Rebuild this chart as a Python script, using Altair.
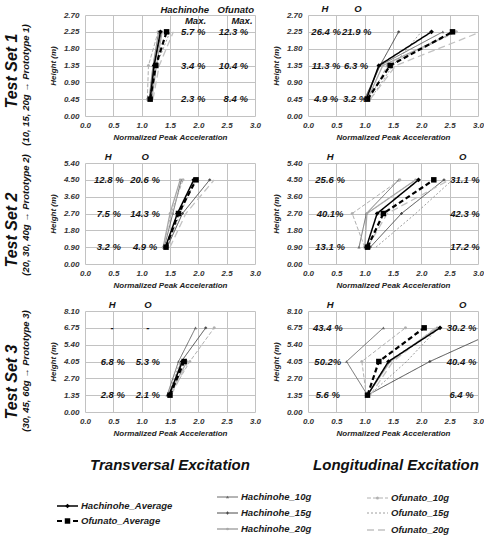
import altair as alt
import pandas as pd

FONT = "Liberation Sans"

SERIES = ["Hachinohe_Average", "Ofunato_Average", "Hachinohe_10g", "Hachinohe_15g",
          "Hachinohe_20g", "Ofunato_10g", "Ofunato_15g", "Ofunato_20g"]

HEIGHTS_SET1 = [0.45, 1.35, 2.25]
HEIGHTS_SET2 = [0.90, 2.70, 4.50]
HEIGHTS_SET3 = [1.35, 4.05, 6.75]

Y_TICKS_SET1 = [0.0, 0.45, 0.90, 1.35, 1.80, 2.25, 2.70]
Y_TICKS_SET2 = [0.0, 0.90, 1.80, 2.70, 3.60, 4.50, 5.40]
Y_TICKS_SET3 = [0.0, 1.35, 2.70, 4.05, 5.40, 6.75, 8.10]
X_TICKS = [0.0, 0.5, 1.0, 1.5, 2.0, 2.5, 3.0]

# normalized peak acceleration: one row per series (SERIES order), one value per height
TRANS_SET1 = [
    [1.15, 1.22, 1.33],
    [1.15, 1.25, 1.44],
    [1.13, 1.20, 1.30],
    [1.15, 1.22, 1.35],
    [1.18, 1.26, 1.36],
    [1.10, 1.12, 1.29],
    [1.15, 1.26, 1.50],
    [1.20, 1.31, 1.56],
]
LONG_SET1 = [
    [1.03, 1.25, 2.18],
    [1.05, 1.45, 2.55],
    [1.02, 1.27, 2.38],
    [1.00, 1.27, 1.60],
    [1.05, 1.32, 2.60],
    [1.08, 1.40, 2.62],
    [1.10, 1.50, 2.00],
    [1.10, 1.55, 3.05],
]
TRANS_SET2 = [
    [1.42, 1.63, 1.92],
    [1.43, 1.65, 1.96],
    [1.40, 1.55, 1.70],
    [1.45, 1.72, 2.20],
    [1.38, 1.50, 1.68],
    [1.38, 1.52, 1.73],
    [1.45, 1.68, 1.95],
    [1.50, 1.78, 2.28],
]
LONG_SET2 = [
    [1.03, 1.22, 1.95],
    [1.05, 1.33, 2.22],
    [0.90, 1.03, 1.60],
    [1.10, 1.65, 2.40],
    [1.00, 1.04, 1.90],
    [1.00, 0.78, 1.62],
    [1.20, 1.90, 2.55],
    [1.05, 1.40, 2.50],
]
TRANS_SET3 = [
    [1.48, 1.72, None],
    [1.50, 1.75, None],
    [1.45, 1.65, 1.95],
    [1.50, 1.70, 2.13],
    [1.48, 1.80, None],
    [1.50, 1.85, 2.28],
    [1.47, 1.68, None],
    [1.52, 1.82, None],
]
LONG_SET3 = [
    [1.05, 1.42, 2.33],
    [1.05, 1.25, 2.05],
    [1.05, 0.68, 1.33],
    [1.05, 2.15, 3.46],
    [1.05, 1.45, 2.28],
    [1.03, 0.95, 1.72],
    [1.08, 1.74, 2.30],
    [1.10, 1.50, 2.25],
]

# annotation texts with their (acceleration, height) anchors
NOTES_T1 = [("Hachinohe", 1.76, 2.83), ("Ofunato", 2.66, 2.83), ("Max.", 1.95, 2.53),
            ("Max.", 2.77, 2.53), ("5.7 %", 1.91, 2.24), ("12.3 %", 2.62, 2.24),
            ("3.4 %", 1.91, 1.35), ("10.4 %", 2.62, 1.35), ("2.3 %", 1.91, 0.45),
            ("8.4 %", 2.66, 0.45)]
NOTES_L1 = [("H", 0.30, 2.85), ("O", 0.88, 2.85), ("26.4 %", 0.32, 2.25), ("21.9 %", 0.86, 2.25),
            ("11.3 %", 0.32, 1.35), ("6.3 %", 0.85, 1.35), ("4.9 %", 0.32, 0.45), ("3.2 %", 0.83, 0.45)]
NOTES_T2 = [("H", 0.41, 5.72), ("O", 1.06, 5.72), ("12.8 %", 0.42, 4.5), ("20.6 %", 1.06, 4.5),
            ("7.5 %", 0.42, 2.7), ("14.3 %", 1.06, 2.7), ("3.2 %", 0.42, 0.9), ("4.9 %", 1.06, 0.9)]
NOTES_L2 = [("H", 0.39, 5.72), ("O", 2.73, 5.72), ("25.6 %", 0.39, 4.5), ("31.1 %", 2.77, 4.5),
            ("40.1%", 0.39, 2.7), ("42.3 %", 2.77, 2.7), ("13.1 %", 0.39, 0.9), ("17.2 %", 2.77, 0.9)]
NOTES_T3 = [("H", 0.48, 8.58), ("O", 1.11, 8.58), ("-", 0.48, 6.75), ("-", 1.11, 6.75),
            ("6.8 %", 0.49, 4.05), ("5.3 %", 1.11, 4.05), ("2.8 %", 0.49, 1.35), ("2.1 %", 1.11, 1.35)]
NOTES_L3 = [("H", 0.39, 8.58), ("O", 2.73, 8.58), ("43.4 %", 0.35, 6.75), ("30.2 %", 2.71, 6.75),
            ("50.2%", 0.35, 4.05), ("40.4 %", 2.71, 4.05), ("5.6 %", 0.35, 1.35), ("6.4 %", 2.71, 1.35)]

ROW_TITLES = ["Test Set 1", "Test Set 2", "Test Set 3"]
ROW_SUBTITLES = ["(10, 15, 20g \u2192 Prototype 1)", "(20, 30, 40g \u2192 Prototype 2)",
                 "(30, 45, 60g \u2192 Prototype 3)"]

# styles (per series)
COLORS = ["#000000", "#000000", "#6a6a6a", "#4a4a4a", "#a8a8a8", "#b0b0b0", "#858585", "#c2c2c2"]
DASHES = [[1, 0], [5, 3], [1, 0], [1, 0], [1, 0], [4, 2], [2, 2], [7, 4]]
WIDTHS = dict(zip(SERIES, [1.5, 2.2, 1.0, 1.0, 1.3, 1.0, 0.8, 1.3]))
SHAPES = ["diamond", "square", "triangle-up", "cross", "circle", "circle", "circle", "circle"]
SIZES = dict(zip(SERIES, [22, 30, 10, 8, 7, 9, 0, 0]))

W, H = 170, 101


def build_df(values, heights):
    rows = []
    for s, vals in zip(SERIES, values):
        for h, v in zip(heights, vals):
            if v is not None:
                rows.append({"series": s, "acc": v, "h": h, "sw": WIDTHS[s], "sz": SIZES[s]})
    return pd.DataFrame(rows)


def style_encodings():
    return dict(
        color=alt.Color("series:N", scale=alt.Scale(domain=SERIES, range=COLORS), legend=None),
        strokeDash=alt.StrokeDash("series:N", scale=alt.Scale(domain=SERIES, range=DASHES), legend=None),
        strokeWidth=alt.StrokeWidth("sw:Q", scale=None, legend=None),
    )


def point_encodings():
    return dict(
        color=alt.Color("series:N", scale=alt.Scale(domain=SERIES, range=COLORS), legend=None),
        shape=alt.Shape("series:N", scale=alt.Scale(domain=SERIES, range=SHAPES), legend=None),
        size=alt.Size("sz:Q", scale=None, legend=None),
    )


AXIS_STYLE = dict(labelOverlap=False, labelFlush=False, grid=True, gridColor="#c2c2c2",
                  gridWidth=1, domain=False, ticks=False)


def panel(values, heights, ymax, yticks, notes, row=None):
    df = build_df(values, heights)
    avg = df[df.series.isin(SERIES[:2])]
    oth = df[~df.series.isin(SERIES[:2])]
    x = alt.X("acc:Q", scale=alt.Scale(domain=[0, 3], nice=False, zero=False),
              axis=alt.Axis(values=X_TICKS, format=".1f", title="Normalized Peak Acceleration",
                            tickCount=7, labelPadding=5, titlePadding=4, **AXIS_STYLE))
    y = alt.Y("h:Q", scale=alt.Scale(domain=[0, ymax], nice=False, zero=False),
              axis=alt.Axis(values=yticks, format=".2f", title="Height (m)",
                            tickCount=7, labelPadding=6, titlePadding=6, **AXIS_STYLE))
    layers = []
    for d in (oth, avg):
        layers.append(alt.Chart(d).mark_line(clip=True).encode(
            x=x, y=y, order=alt.Order("h:Q"), detail="series:N", **style_encodings()))
        layers.append(alt.Chart(d[d.sz > 0]).mark_point(filled=True, opacity=1, clip=True).encode(
            x=x, y=y, **point_encodings()))
    ndf = pd.DataFrame(notes, columns=["text", "acc", "h"])
    layers.append(alt.Chart(ndf).mark_text(font=FONT, fontSize=9.5, fontStyle="italic",
                                           fontWeight="bold", color="#151515").encode(
        x=x, y=y, text="text:N"))
    if row is not None:
        tpos = [(-73, 56, 70), (-73, 67, 52), (-73, 71, 60)][row]
        layers.append(alt.Chart(pd.DataFrame({"t": [ROW_TITLES[row]]})).mark_text(
            font=FONT, fontSize=16, fontStyle="italic", fontWeight="bold", angle=270,
            color="#111").encode(text="t:N", x=alt.value(tpos[0]), y=alt.value(tpos[1])))
        layers.append(alt.Chart(pd.DataFrame({"t": [ROW_SUBTITLES[row]]})).mark_text(
            font=FONT, fontSize=9.5, fontStyle="italic", fontWeight="bold", angle=270,
            color="#111").encode(text="t:N", x=alt.value(-59), y=alt.value(tpos[2])))
    return alt.layer(*layers).properties(width=W, height=H)


p1 = panel(TRANS_SET1, HEIGHTS_SET1, 2.70, Y_TICKS_SET1, NOTES_T1, row=0)
p2 = panel(LONG_SET1, HEIGHTS_SET1, 2.70, Y_TICKS_SET1, NOTES_L1)
p3 = panel(TRANS_SET2, HEIGHTS_SET2, 5.40, Y_TICKS_SET2, NOTES_T2, row=1)
p4 = panel(LONG_SET2, HEIGHTS_SET2, 5.40, Y_TICKS_SET2, NOTES_L2)
p5 = panel(TRANS_SET3, HEIGHTS_SET3, 8.10, Y_TICKS_SET3, NOTES_T3, row=2)
p6 = panel(LONG_SET3, HEIGHTS_SET3, 8.10, Y_TICKS_SET3, NOTES_L3)

# bottom block: column titles and a hand-placed legend (pixel layout)
TITLES = [("Transversal Excitation", 85, 6), ("Longitudinal Excitation", 311, 6)]
LEGEND_POS = {
    "Hachinohe_Average": (-28, 47), "Ofunato_Average": (-28, 62),
    "Hachinohe_10g": (132, 38), "Hachinohe_15g": (132, 54), "Hachinohe_20g": (132, 70),
    "Ofunato_10g": (282, 39), "Ofunato_15g": (282, 54), "Ofunato_20g": (282, 71),
}
leg = pd.DataFrame([{"series": s, "lx": p[0], "lx2": p[0] + 21, "mx": p[0] + 10.5,
                     "tx": p[0] + 24, "ly": p[1], "sw": WIDTHS[s], "sz": SIZES[s]}
                    for s, p in LEGEND_POS.items()])
tdf = pd.DataFrame(TITLES, columns=["t", "px", "py"])


def X0(f):
    return alt.X(f, scale=None, axis=None)


def Y0(f):
    return alt.Y(f, scale=None, axis=None)


bottom = alt.layer(
    alt.Chart(tdf).mark_text(font=FONT, fontSize=15, fontStyle="italic", fontWeight="bold",
                             color="#111").encode(x=X0("px:Q"), y=Y0("py:Q"), text="t:N"),
    alt.Chart(leg).mark_rule().encode(x=X0("lx:Q"), x2="lx2:Q", y=Y0("ly:Q"), **style_encodings()),
    alt.Chart(leg[leg.sz > 0]).mark_point(filled=True, opacity=1).encode(
        x=X0("mx:Q"), y=Y0("ly:Q"), **point_encodings()),
    alt.Chart(leg).mark_text(font=FONT, fontSize=9.5, fontStyle="italic", fontWeight="bold",
                             align="left", color="#1a1a1a").encode(x=X0("tx:Q"), y=Y0("ly:Q"), text="series:N"),
).properties(width=W, height=70)

chart = alt.concat(p1, p2, p3, p4, p5, p6, bottom, columns=2,
                   spacing={"row": 47, "column": 53}, bounds="flush").properties(
    padding={"left": 4, "top": 4, "right": 0, "bottom": 0}
).configure_view(strokeWidth=0).configure_axis(
    labelFont=FONT, labelFontSize=8, labelFontStyle="italic", labelFontWeight="bold",
    labelColor="#333", titleFont=FONT, titleFontSize=8, titleFontStyle="italic",
    titleFontWeight="bold", titleColor="#222",
)

chart.save("out.html", embed_options={"renderer": "svg", "actions": False})
